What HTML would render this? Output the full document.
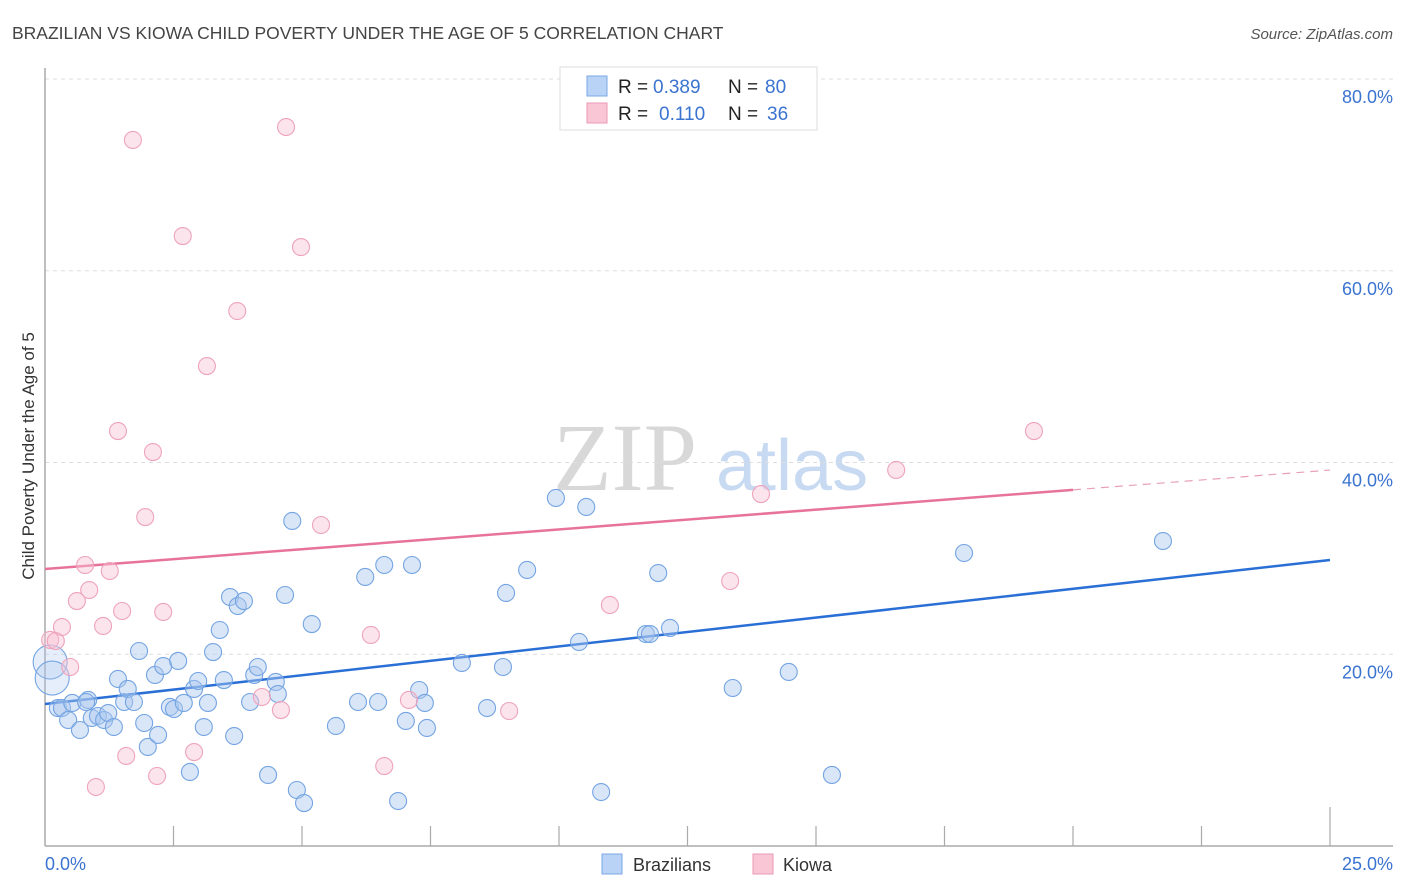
<!DOCTYPE html>
<html><head><meta charset="utf-8"><style>
body{margin:0;background:#fff;font-family:"Liberation Sans",sans-serif;}
svg{display:block}
</style></head><body>
<svg id="chart" width="1406" height="892" xmlns="http://www.w3.org/2000/svg">
<text x="12" y="39" font-size="17.5" fill="#444">BRAZILIAN VS KIOWA CHILD POVERTY UNDER THE AGE OF 5 CORRELATION CHART</text>
<text x="1393" y="39" font-size="15" fill="#555" font-style="italic" text-anchor="end">Source: ZipAtlas.com</text>
<g>
<text x="553" y="490" font-size="96" fill="#d8d8d8" font-family="Liberation Serif, serif">ZIP</text>
<text x="716" y="490" font-size="72" fill="#c8daf2">atlas</text>
</g>
<g id="grid"></g>
<g id="axes"></g>
<g id="trends"></g>
<g id="points"></g>
<text transform="translate(34,456) rotate(-90)" font-size="17" fill="#333" text-anchor="middle">Child Poverty Under the Age of 5</text>
<g>
<rect x="560" y="67" width="257" height="63" fill="#fff" stroke="#ddd"/>
<rect x="587" y="76" width="20" height="20" fill="#b8d3f5" stroke="#7aa7e3"/>
<rect x="587" y="103" width="20" height="20" fill="#f9c6d6" stroke="#ec9ab5"/>
<text y="93" font-size="19" fill="#222"><tspan x="618">R =</tspan><tspan x="653" fill="#3a73d0">0.389</tspan><tspan x="728">N =</tspan><tspan x="765" fill="#3a73d0">80</tspan></text>
<text y="120" font-size="19" fill="#222"><tspan x="618">R =</tspan><tspan x="659" fill="#3a73d0">0.110</tspan><tspan x="728">N =</tspan><tspan x="767" fill="#3a73d0">36</tspan></text>
</g>
<g>
<rect x="602" y="854" width="20" height="20" fill="#b8d3f5" stroke="#7aa7e3"/>
<text x="633" y="871" font-size="18" fill="#333">Brazilians</text>
<rect x="753" y="854" width="20" height="20" fill="#f9c6d6" stroke="#ec9ab5"/>
<text x="783" y="871" font-size="18" fill="#333">Kiowa</text>
</g>
</svg>
<script>
const blueX=[0.10,0.14,0.25,0.33,0.45,0.53,0.68,0.84,0.80,0.91,1.03,1.15,1.23,1.34,1.42,1.54,1.61,1.73,1.83,1.93,2.00,2.20,2.14,2.30,2.43,2.51,2.59,2.70,2.82,2.90,2.98,3.09,3.17,3.27,3.40,3.48,3.60,3.68,3.75,3.87,3.99,4.07,4.14,4.34,4.49,4.53,4.67,4.81,4.90,5.04,5.19,5.66,6.09,6.23,6.48,6.60,6.87,7.02,7.14,7.28,7.39,7.43,8.11,8.60,8.91,8.97,9.38,9.94,10.39,10.53,10.82,11.69,11.77,11.93,12.16,13.38,14.47,15.31,17.88,21.75];
const blueY=[19.19,17.52,14.39,14.39,13.14,14.92,12.10,15.23,15.02,13.35,13.56,13.14,13.87,12.41,17.42,15.02,16.38,15.02,20.34,12.83,10.33,11.58,17.84,18.77,14.50,14.29,19.30,14.92,7.72,16.38,17.21,12.41,14.92,20.23,22.53,17.31,25.97,11.47,25.03,25.55,15.02,17.84,18.67,7.41,17.11,15.85,26.18,33.90,5.84,4.48,23.15,12.52,15.02,28.06,15.02,29.31,4.69,13.04,29.31,16.27,14.92,12.31,19.09,14.39,18.67,26.39,28.79,36.30,21.28,35.36,5.63,22.11,22.11,28.47,22.74,16.48,18.15,7.41,30.56,31.81];
const blueBig=[0,1];
const pinkX=[0.10,0.21,0.33,0.49,0.62,0.78,0.86,0.99,1.13,1.26,1.42,1.50,1.58,1.71,1.95,2.10,2.18,2.30,2.68,2.90,3.15,3.74,4.22,4.59,4.69,4.98,5.37,6.34,6.60,7.08,9.03,10.99,13.33,13.93,16.56,19.24];
const pinkY=[21.49,21.38,22.84,18.67,25.55,29.31,26.70,6.15,22.95,28.68,43.28,24.51,9.39,73.64,34.31,41.09,7.30,24.41,63.62,9.80,50.06,55.80,15.54,14.18,74.99,62.47,33.48,22.01,8.34,15.23,14.08,25.14,27.64,36.71,39.22,43.28];
const yTicks=[20,40,60,80];
const yTickLabels=["20.0%","40.0%","60.0%","80.0%"];
const xTickVals=[2.5,5,7.5,10,12.5,15,17.5,20,22.5,25];
const xEndLabels=["0.0%","25.0%"];
const blueTrend=[14.81,29.83];
const pinkTrend=[28.89,39.21];
const pinkSolidEnd=20;

const NS="http://www.w3.org/2000/svg";
const X0=45,X1=1330,Y0=846,Y80=79;
const sx=v=>X0+(v/25)*(X1-X0);
const sy=v=>Y0-(v/80)*(Y0-Y80);
function mk(parent,tag,attrs){const e=document.createElementNS(NS,tag);for(const k in attrs)e.setAttribute(k,attrs[k]);document.getElementById(parent).appendChild(e);return e;}

yTicks.forEach((t,i)=>{
  const l=mk('grid','line',{x1:X0,x2:1393,y1:sy(t),y2:sy(t),stroke:'#ddd','stroke-dasharray':'4,4'});
  
  
  const tx=mk('grid','text',{x:1393,y:sy(t)+24,'font-size':18,fill:'#3a73d0','text-anchor':'end'});
  tx.textContent=yTickLabels[i];
  
  
});
let a=mk('axes','line',{x1:X0,x2:X0,y1:68,y2:Y0,stroke:'#aaa','stroke-width':1.5});


a=mk('axes','line',{x1:X0,x2:1393,y1:Y0,y2:Y0,stroke:'#aaa','stroke-width':1.5});


xTickVals.forEach((t,i)=>{
  const tk=mk('axes','line',{x1:sx(t),x2:sx(t),y1:i===xTickVals.length-1?807:826,y2:Y0,stroke:'#aaa','stroke-width':1.2});
  
  
});
let xl=mk('axes','text',{x:45,y:870,'font-size':18,fill:'#3a73d0'});xl.textContent=xEndLabels[0];


xl=mk('axes','text',{x:1393,y:870,'font-size':18,fill:'#3a73d0','text-anchor':'end'});xl.textContent=xEndLabels[1];



let t=mk('trends','line',{x1:sx(0),y1:sy(blueTrend[0]),x2:sx(25),y2:sy(blueTrend[1]),stroke:'#2a6fd6','stroke-width':2.5});


const pAt=v=>pinkTrend[0]+(pinkTrend[1]-pinkTrend[0])*v/25;
t=mk('trends','line',{x1:sx(0),y1:sy(pAt(0)),x2:sx(pinkSolidEnd),y2:sy(pAt(pinkSolidEnd)),stroke:'#e8739a','stroke-width':2.5});


t=mk('trends','line',{x1:sx(pinkSolidEnd),y1:sy(pAt(pinkSolidEnd)),x2:sx(25),y2:sy(pAt(25)),stroke:'#e8a0b8','stroke-width':1.2,'stroke-dasharray':'8,6'});



blueX.forEach((v,i)=>{
  const big=blueBig.includes(i);
  const c=mk('points','circle',{cx:sx(v),cy:sy(blueY[i]),r:big?17:8.5,fill:big?'rgba(170,200,240,0.3)':'rgba(170,200,240,0.45)',stroke:'#74a4e2','stroke-width':1.1});
  
  
});
pinkX.forEach((v,i)=>{
  const c=mk('points','circle',{cx:sx(v),cy:sy(pinkY[i]),r:8.5,fill:'rgba(248,195,212,0.45)',stroke:'#eea3bb','stroke-width':1.1});
  
  
});
</script>
</body></html>
